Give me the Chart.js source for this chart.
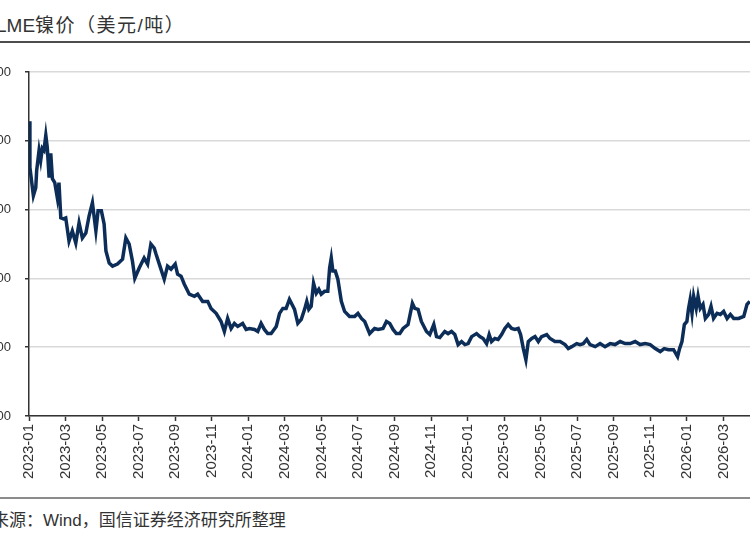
<!DOCTYPE html>
<html>
<head>
<meta charset="utf-8">
<title>LME镍价</title>
<style>
html, body {
	margin: 0;
	padding: 0;
	background: #ffffff;
	overflow: hidden;
	width: 750px;
	height: 536px;
}
#title {
	position: absolute;
	left: -4px;
	top: 10px;
	font-family: "Liberation Sans", "Noto Sans CJK SC", sans-serif;
	font-size: 19px;
	letter-spacing: 1.5px;
	color: #333333;
	white-space: nowrap;
}
#title .latin {
	font-family: "Liberation Sans Narrow", "Liberation Sans", sans-serif;
	letter-spacing: 0;
}
#rule_top {
	position: absolute;
	left: 0;
	top: 41px;
	width: 750px;
	height: 2px;
	background: #4d4d4d;
}
#rule_bottom {
	position: absolute;
	left: 0;
	top: 497px;
	width: 750px;
	height: 2px;
	background: #8c8c8c;
}
#source {
	position: absolute;
	left: -42px;
	top: 506px;
	font-family: "Liberation Sans", "Noto Sans CJK SC", sans-serif;
	font-size: 17px;
	color: #333333;
	white-space: nowrap;
}
#chart_box {
	position: absolute;
	left: -40px;
	top: 50px;
	width: 800px;
	height: 446px;
}
</style>
</head>
<body>
<div id="title"><span class="latin">LME</span>镍价（美元/吨）</div>
<div id="rule_top"></div>
<div id="chart_box"><canvas id="nickel"></canvas></div>
<div id="rule_bottom"></div>
<div id="source">资料来源：Wind，国信证券经济研究所整理</div>

<script src="https://cdn.jsdelivr.net/npm/chart.js@4.4.1/dist/chart.umd.min.js"></script>
<script>
// months since 2023-01
var xMonths = [0,0.05,0.24,0.37,0.42,0.55,0.64,0.73,0.82,0.92,
	1.00,1.10,1.19,1.28,1.41,1.55,1.64,1.74,1.88,2.01,
	2.19,2.37,2.56,2.74,2.92,3.11,3.29,3.47,3.66,3.78,
	3.96,4.11,4.21,4.39,4.57,4.84,5.12,5.30,5.48,5.66,
	5.79,6.03,6.30,6.49,6.67,6.85,6.95,7.13,7.40,7.58,
	7.77,8.00,8.13,8.32,8.50,8.77,9.05,9.23,9.50,9.78,
	9.96,10.24,10.51,10.69,10.87,11.06,11.24,11.42,11.69,11.88,
	12.06,12.34,12.52,12.70,12.88,13.06,13.25,13.53,13.71,13.89,
	14.07,14.25,14.53,14.71,14.90,15.08,15.20,15.31,15.44,15.57,
	15.72,15.86,15.99,16.17,16.35,16.45,16.54,16.63,16.76,16.90,
	17.09,17.27,17.54,17.82,18.00,18.19,18.37,18.64,18.91,19.10,
	19.37,19.56,19.74,19.92,20.10,20.29,20.47,20.74,20.98,21.11,
	21.29,21.47,21.75,21.93,22.15,22.30,22.48,22.75,22.93,23.12,
	23.30,23.48,23.67,23.85,24.03,24.22,24.49,24.67,24.85,25.04,
	25.18,25.31,25.49,25.67,25.86,26.04,26.22,26.41,26.59,26.77,
	26.90,27.05,27.19,27.32,27.51,27.69,27.87,28.05,28.33,28.51,
	28.78,29.06,29.33,29.51,29.70,29.97,30.15,30.33,30.52,30.70,
	30.98,31.25,31.52,31.80,32.07,32.35,32.62,32.89,33.17,33.44,
	33.72,33.99,34.27,34.54,34.76,34.99,35.27,35.49,35.60,35.73,
	35.86,36.00,36.09,36.18,36.28,36.37,36.51,36.61,36.73,36.88,
	37.01,37.19,37.32,37.46,37.65,37.83,38.01,38.20,38.38,38.56,
	38.83,39.11,39.29,39.44];

// LME nickel, USD/t
var prices = [31420,28060,26010,26590,27840,29300,28570,29450,29300,30400,
	29520,27320,29080,27250,26960,25860,26960,24400,24330,24400,
	22720,23450,22570,24040,22940,23300,24550,25500,23450,24910,
	24910,23960,21990,21110,20890,21040,21400,22940,22500,21260,
	20010,20750,21480,21040,22500,22210,21770,21040,19940,20890,
	20670,21040,20310,20160,19580,18850,18700,18850,18330,18330,
	17820,17460,16870,16140,17090,16360,16730,16510,16730,16290,
	16360,16290,16140,16730,16290,15990,15990,16510,17460,17820,
	17820,18480,17750,16730,17020,17750,18330,17750,17970,19650,
	18920,19210,18850,19060,19060,20750,21480,20530,20530,19940,
	18330,17600,17240,17240,17460,17090,16870,15990,16360,16290,
	16360,16870,16730,16290,15990,15990,16360,16650,18190,17820,
	17750,16870,16140,15920,16650,15770,15700,16140,15990,16140,
	15920,15190,15410,15190,15260,15770,15990,15770,15630,15260,
	15920,15410,15630,15560,15920,16360,16650,16360,16290,16360,
	15920,14900,14090,15410,15630,15770,15410,15770,15920,15630,
	15410,15410,15190,14900,15040,15260,15190,15260,15560,15190,
	15040,15260,15040,15260,15190,15410,15260,15260,15410,15190,
	15260,15190,14900,14680,14900,14820,14820,14310,14900,15410,
	16650,16870,17820,18480,17460,18700,17820,18700,17820,18110,
	17090,17380,17970,17090,17460,17380,17600,17090,17380,17090,
	17090,17240,18110,18330];

var startYear = 2023;
var yTicks = [10000, 15000, 20000, 25000, 30000, 35000];

function monthLabel(v) {
	var y = startYear + Math.floor(v / 12);
	var m = (v % 12) + 1;
	return y + "-" + (m < 10 ? "0" + m : m);
}

var points = [];
for (var i = 0; i < xMonths.length; i++) {
	points.push({x: xMonths[i], y: prices[i]});
}

var ctx = document.getElementById('nickel').getContext('2d');
var myChart = new Chart(ctx, {
	type: 'line',
	data: {
		datasets: [{
			label: 'LME镍价',
			data: points,
			borderColor: '#0c2d57',
			borderWidth: 3.5,
			pointRadius: 0,
			tension: 0,
			fill: false
		}]
	},
	options: {
		responsive: true,
		maintainAspectRatio: false,
		animation: false,
		layout: { padding: { top: 22, right: 0, left: 0, bottom: 0 } },
		plugins: {
			legend: { display: false },
			tooltip: { enabled: false }
		},
		scales: {
			x: {
				type: 'linear',
				min: 0,
				max: 40,
				afterFit: function(scale) { scale.height = 80; },
				afterBuildTicks: function(scale) {
					var t = [];
					for (var v = 0; v <= 38; v += 2) t.push({value: v});
					scale.ticks = t;
				},
				ticks: {
					minRotation: 90,
					maxRotation: 90,
					autoSkip: false,
					padding: 3,
					color: '#333333',
					font: { family: 'Liberation Sans', size: 15 },
					callback: function(v) { return monthLabel(v); }
				},
				grid: {
					drawOnChartArea: false,
					drawTicks: true,
					tickLength: 5,
					tickColor: '#333333',
					tickWidth: 1.5
				},
				border: { color: '#333333', width: 1.5 }
			},
			y: {
				min: 10000,
				max: 35000,
				afterFit: function(scale) { scale.width = 69; },
				afterBuildTicks: function(scale) {
					scale.ticks = yTicks.map(function(v) { return {value: v}; });
				},
				ticks: {
					padding: 14,
					color: '#333333',
					font: { family: 'Liberation Sans', size: 13 }
				},
				grid: {
					color: '#d9d9d9',
					lineWidth: 1.5,
					drawTicks: true,
					tickLength: 4,
					tickColor: '#333333'
				},
				border: { color: '#333333', width: 1.5 }
			}
		}
	}
});
</script>
</body>
</html>
